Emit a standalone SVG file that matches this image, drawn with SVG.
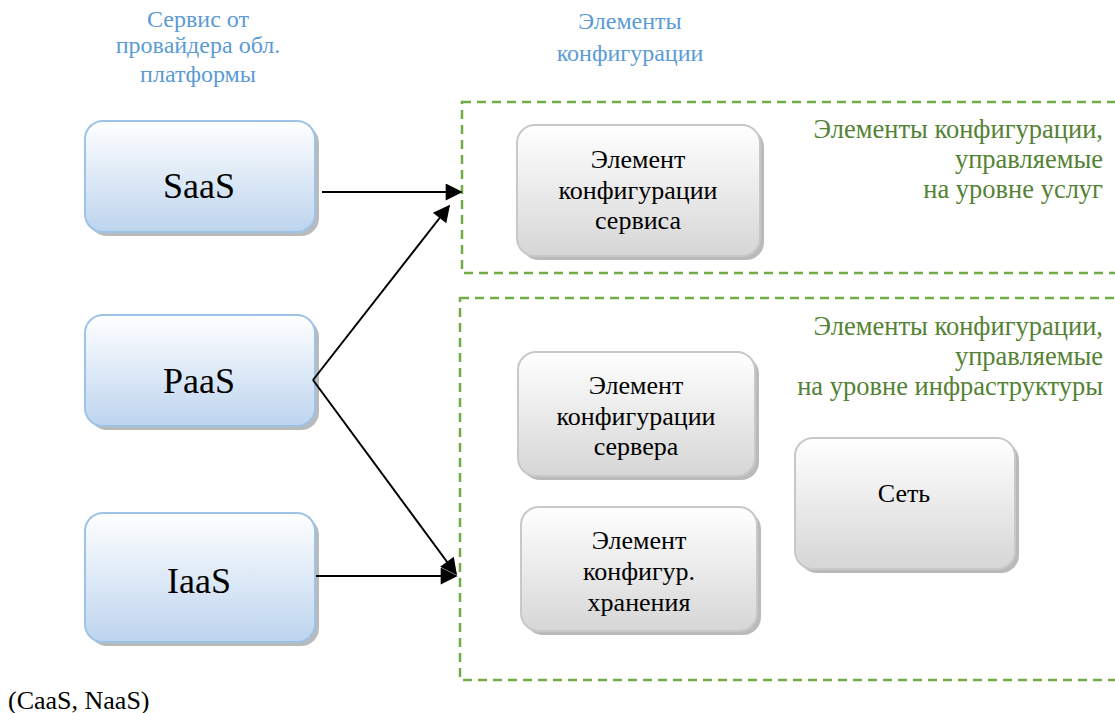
<svg xmlns="http://www.w3.org/2000/svg" width="1115" height="713" viewBox="0 0 1115 713">
<defs>
<linearGradient id="gb" x1="0" y1="0" x2="0" y2="1"><stop offset="0" stop-color="#ffffff"/><stop offset="1" stop-color="#bdd4ee"/></linearGradient>
<linearGradient id="gg" x1="0" y1="0" x2="0" y2="1"><stop offset="0" stop-color="#ffffff"/><stop offset="1" stop-color="#d6d6d6"/></linearGradient>
<marker id="ar" viewBox="0 0 10 10" refX="9" refY="5" markerWidth="19" markerHeight="17" markerUnits="userSpaceOnUse" orient="auto"><path d="M0,0 L10,5 L0,10 z" fill="#000"/></marker>
<style>
text{font-family:"Liberation Serif","DejaVu Serif",serif}
.sh{fill:#a9a9a9;opacity:0.8}
.bb{fill:url(#gb);stroke:#9dc3e6;stroke-width:2}
.gb{fill:url(#gg);stroke:#c8c8c8;stroke-width:2}
.big{font-size:36px;fill:#000;text-anchor:middle}
.lbl{font-size:26px;fill:#000;text-anchor:middle}
.hd{font-size:24px;fill:#5b9bd5;text-anchor:middle}
.gr{font-size:26.5px;fill:#548235;text-anchor:end}
.dash{fill:none;stroke:#70ad47;stroke-width:2.5;stroke-dasharray:9 6}
.cn{stroke:#000;stroke-width:2;fill:none;marker-end:url(#ar)}
</style>
</defs>
<rect width="1115" height="713" fill="#fff"/>
<g id="headers">
<text class="hd" x="198" y="27">Сервис от</text>
<text class="hd" x="198" y="53">провайдера обл.</text>
<text class="hd" x="198" y="82">платформы</text>
<text class="hd" x="630" y="29">Элементы</text>
<text class="hd" x="630" y="61">конфигурации</text>
</g>
<g id="zone-services">
<rect class="dash" x="462" y="102" width="670" height="171"/>
<text class="gr" x="1103" y="138">Элементы конфигурации,</text>
<text class="gr" x="1103" y="168">управляемые</text>
<text class="gr" x="1103" y="198">на уровне услуг</text>
</g>
<g id="zone-infra">
<rect class="dash" x="460" y="298" width="670" height="382"/>
<text class="gr" x="1103" y="335">Элементы конфигурации,</text>
<text class="gr" x="1103" y="365">управляемые</text>
<text class="gr" x="1103" y="395">на уровне инфраструктуры</text>
</g>
<g id="saas">
<rect class="sh" x="89" y="125" width="230" height="111" rx="18"/>
<rect class="bb" x="85" y="121" width="230" height="111" rx="18"/>
<text class="big" x="199" y="198">SaaS</text>
</g>
<g id="paas">
<rect class="sh" x="89" y="319" width="230" height="111" rx="18"/>
<rect class="bb" x="85" y="315" width="230" height="111" rx="18"/>
<text class="big" x="199" y="393">PaaS</text>
</g>
<g id="iaas">
<rect class="sh" x="89" y="517" width="230" height="129" rx="18"/>
<rect class="bb" x="85" y="513" width="230" height="129" rx="18"/>
<text class="big" x="199" y="593">IaaS</text>
</g>
<g id="ci-service">
<rect class="sh" x="521" y="129" width="243" height="131" rx="18"/>
<rect class="gb" x="517" y="125" width="243" height="131" rx="18"/>
<text class="lbl" x="638" y="168">Элемент</text>
<text class="lbl" x="638" y="199">конфигурации</text>
<text class="lbl" x="638" y="229">сервиса</text>
</g>
<g id="ci-server">
<rect class="sh" x="522" y="356" width="237" height="124" rx="18"/>
<rect class="gb" x="518" y="352" width="237" height="124" rx="18"/>
<text class="lbl" x="636" y="394">Элемент</text>
<text class="lbl" x="636" y="425">конфигурации</text>
<text class="lbl" x="636" y="455">сервера</text>
</g>
<g id="ci-storage">
<rect class="sh" x="525" y="511" width="236" height="124" rx="18"/>
<rect class="gb" x="521" y="507" width="236" height="124" rx="18"/>
<text class="lbl" x="639" y="549">Элемент</text>
<text class="lbl" x="639" y="580">конфигур.</text>
<text class="lbl" x="639" y="611">хранения</text>
</g>
<g id="network">
<rect class="sh" x="799" y="442" width="220" height="131" rx="18"/>
<rect class="gb" x="795" y="438" width="220" height="131" rx="18"/>
<text class="lbl" x="904" y="502">Сеть</text>
</g>
<g id="note">
<text font-size="26" x="8" y="709" fill="#000">(CaaS, NaaS)</text>
</g>
<g id="connectors">
<line class="cn" x1="322" y1="192" x2="461" y2="192"/>
<line class="cn" x1="313" y1="380" x2="449" y2="206"/>
<line class="cn" x1="313" y1="380" x2="456" y2="574"/>
<line class="cn" x1="316" y1="576" x2="456" y2="576"/>
</g>
</svg>
